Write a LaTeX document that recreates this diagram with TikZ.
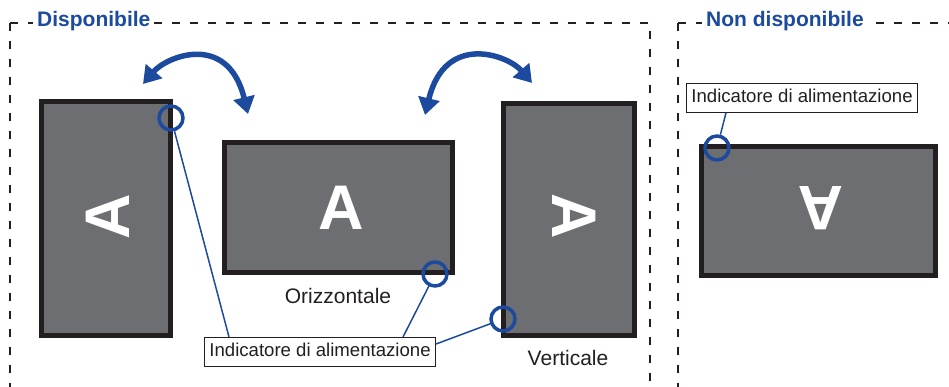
\documentclass[tikz,border=0pt]{standalone}
\usepackage{fontspec}
\setmainfont{Liberation Sans}
\usetikzlibrary{arrows.meta}
\definecolor{dblue}{RGB}{28,74,158}
\definecolor{frameclr}{RGB}{35,31,32}
\definecolor{scrgray}{RGB}{109,110,113}
\tikzset{
  frame/.style={draw=frameclr, line width=2.5pt, dash pattern=on 8pt off 10pt},
  title/.style={font=\fontsize{21}{21}\selectfont\bfseries, text=dblue, fill=white, inner sep=4pt, anchor=base west},
  monitor/.style={draw=frameclr, fill=scrgray, line width=5pt, inner sep=0pt},
  letter/.style={font=\fontsize{63}{63}\selectfont\bfseries, text=white, inner sep=0pt},
  led/.style={circle, draw=dblue, line width=3.5pt, minimum size=24pt, inner sep=0pt},
  lbl/.style={draw=frameclr, line width=0.8pt, fill=white, font=\fontsize{18.6}{18.6}\selectfont, text=frameclr,
    inner xsep=5pt, inner ysep=5.9pt, text height=13.3pt, text depth=3.9pt},
  conn/.style={draw=dblue, line width=1.5pt},
  captext/.style={font=\fontsize{21}{21}\selectfont, text=frameclr, anchor=base},
  rotarrow/.style={draw=dblue, line width=5.5pt, {Triangle[width=21pt,length=17pt]}-{Triangle[width=21pt,length=17pt]}}
}
\begin{document}
\begin{tikzpicture}[x=1pt,y=-1pt]
\useasboundingbox[fill=white] (0,0) rectangle (949,387);
% frames
\coordinate (f1) at (10,23);
\coordinate (f2) at (678,23);
\draw[frame] (f1) -- (10,387);
\draw[frame] (f1) -- (650,23) -- (650,387);
\draw[frame] (f2) -- (678,387);
\draw[frame] (f2) -- (949,23);
\node[title] (t1) at (33,27) {Disponibile};
\node[title] (t2) at (702,27) {Non disponibile};
% monitors
\node[monitor, minimum width=129pt, minimum height=234pt] (m1) at (106,218.5) {};
\node[monitor, minimum width=228pt, minimum height=130pt] (m2) at (338.5,207.5) {};
\node[monitor, minimum width=131pt, minimum height=232pt] (m3) at (569,219.5) {};
\node[monitor, minimum width=234pt, minimum height=129pt] (m4) at (818.5,211) {};
\node[letter, rotate=90] (a1) at (108,217) {A};
\node[letter] (a2) at (341,208) {A};
\node[letter, rotate=-90] (a3) at (574,216) {A};
\node[letter, rotate=180] (a4) at (821,208) {A};
% captions
\node[captext] (o) at (338,303) {Orizzontale};
\node[captext] (v) at (568,365) {Verticale};
% indicators
\node[led] (c1) at (171,118) {};
\node[led] (c2) at (435,274) {};
\node[led] (c3) at (503,319) {};
\node[led] (c4) at (717,148) {};
% labels
\node[lbl, anchor=north west] (lab) at (204,337) {Indicatore di alimentazione};
\node[lbl, anchor=north west] (lab2) at (686,83) {Indicatore di alimentazione};
\path (lab.north west) ++(25,0) coordinate (p1);
\path (lab.north west) ++(199,0) coordinate (p2);
\path (lab.north east) ++(0,7) coordinate (p3);
\path (lab2.south west) ++(40,0) coordinate (p4);
\draw[conn] (c1) -- (p1);
\draw[conn] (c2) -- (p2);
\draw[conn] (c3) -- (p3);
\draw[conn] (c4) -- (p4);
% rotation arrows
\coordinate (r1a) at (143,84);
\coordinate (r1b) at (248,114);
\coordinate (r2a) at (532,83);
\coordinate (r2b) at (425,115);
\draw[rotarrow] (r1a) .. controls (167,56) and (228,32) .. (r1b);
\draw[rotarrow] (r2a) .. controls (508,55) and (445,32) .. (r2b);
\end{tikzpicture}
\end{document}
